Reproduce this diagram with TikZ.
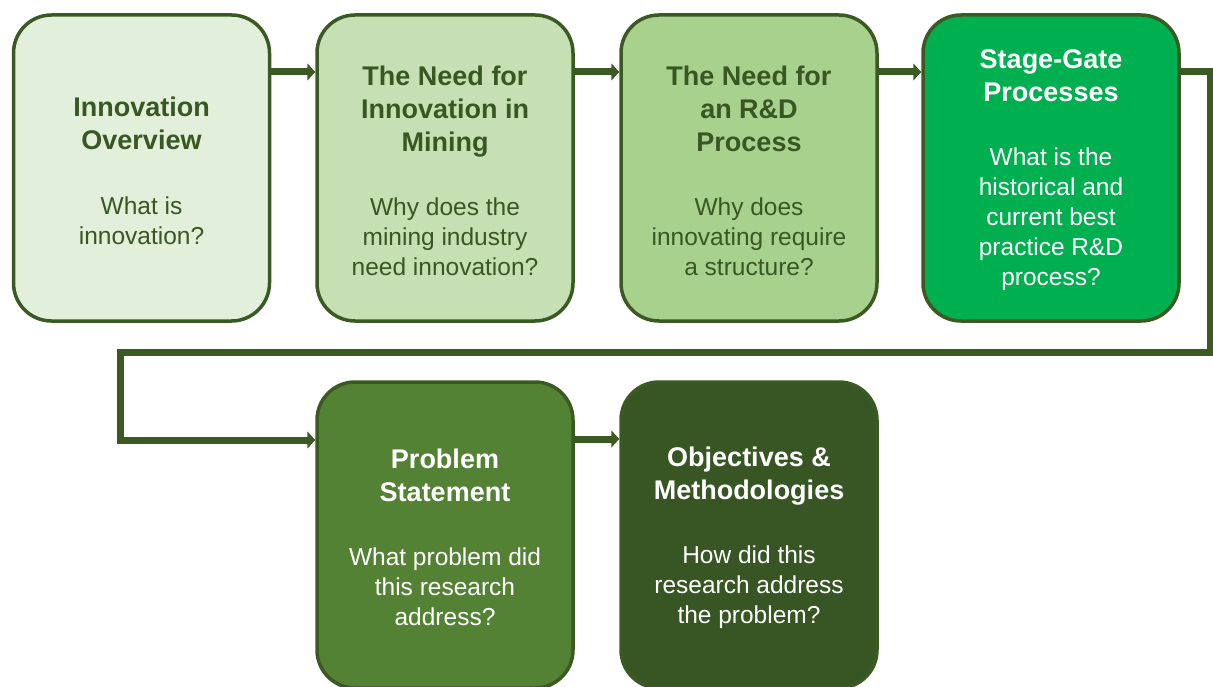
\documentclass[tikz,border=0pt]{standalone}
\usepackage{fontspec}
\setmainfont{Liberation Sans}
\usetikzlibrary{arrows.meta,calc}
\definecolor{edge}{HTML}{3B5A23}
\definecolor{txt}{HTML}{385723}
\definecolor{fa}{HTML}{E2EFDA}
\definecolor{fb}{HTML}{C6E0B4}
\definecolor{fc}{HTML}{A9D18E}
\definecolor{fd}{HTML}{00B050}
\definecolor{fe}{HTML}{548235}
\definecolor{ff}{HTML}{375623}
\newcommand\ttl[1]{{\fontsize{27}{30}\selectfont\bfseries #1}}
\begin{document}
\begin{tikzpicture}[x=1pt,y=-1pt,
  stagebox/.style={draw=edge, line width=3.5pt, rounded corners=38pt,
    minimum width=256pt, minimum height=306pt, inner sep=0pt},
  stagetext/.style={align=center, inner sep=0pt,
    font=\fontsize{24.5}{30}\selectfont},
  link/.style={draw=edge, line width=7pt, line join=miter,
    -{Triangle[length=8pt,width=17pt]}}]
\useasboundingbox (0,0) rectangle (1213,687);

\node[stagebox, fill=fa] (b1) at (141.5,168) {};
\node[stagebox, fill=fb] (b2) at (445,168) {};
\node[stagebox, fill=fc] (b3) at (749,168) {};
\node[stagebox, fill=fd] (b4) at (1051,168) {};
\node[stagebox, fill=fe] (b5) at (445,535) {};
\node[stagebox, fill=ff] (b6) at (749,535) {};

\node[stagetext, text=txt] (t1) at ($(b1.center)+(0,2.5)$)
  {\ttl{Innovation}\\[3pt]\ttl{Overview}\\[35pt]What is\\innovation?};
\node[stagetext, text=txt] (t2) at ($(b2.center)+(0,2.5)$)
  {\ttl{The Need for}\\[3pt]\ttl{Innovation in}\\[3pt]\ttl{Mining}\\[34pt]Why does the\\mining industry\\need innovation?};
\node[stagetext, text=txt] (t3) at ($(b3.center)+(0,2.5)$)
  {\ttl{The Need for}\\[3pt]\ttl{an R\&D}\\[3pt]\ttl{Process}\\[34pt]Why does\\innovating require\\a structure?};
\node[stagetext, text=white] (t4) at ($(b4.center)+(0,2.5)$)
  {\ttl{Stage-Gate}\\[3pt]\ttl{Processes}\\[34pt]What is the\\historical and\\current best\\practice R\&D\\process?};
\node[stagetext, text=white] (t5) at ($(b5.center)+(0,2.5)$)
  {\ttl{Problem}\\[3pt]\ttl{Statement}\\[34pt]What problem did\\this research\\address?};
\node[stagetext, text=white] (t6) at ($(b6.center)+(0,2.5)$)
  {\ttl{Objectives \&}\\[3pt]\ttl{Methodologies}\\[34pt]How did this\\research address\\the problem?};

\coordinate (c1) at (1210,72);
\coordinate (c2) at (1210,352);
\coordinate (c3) at (120,352);
\coordinate (c4) at (120,440);

\draw[link] (b1.east |- 0,72) -- (b2.west |- 0,72);
\draw[link] (b2.east |- 0,72) -- (b3.west |- 0,72);
\draw[link] (b3.east |- 0,72) -- (b4.west |- 0,72);
\draw[link] (b4.east |- 0,72) -- (c1) -- (c2) -- (c3) -- (c4) -- (b5.west |- 0,440);
\draw[link] (b5.east |- 0,439) -- (b6.west |- 0,439);
\end{tikzpicture}
\end{document}
